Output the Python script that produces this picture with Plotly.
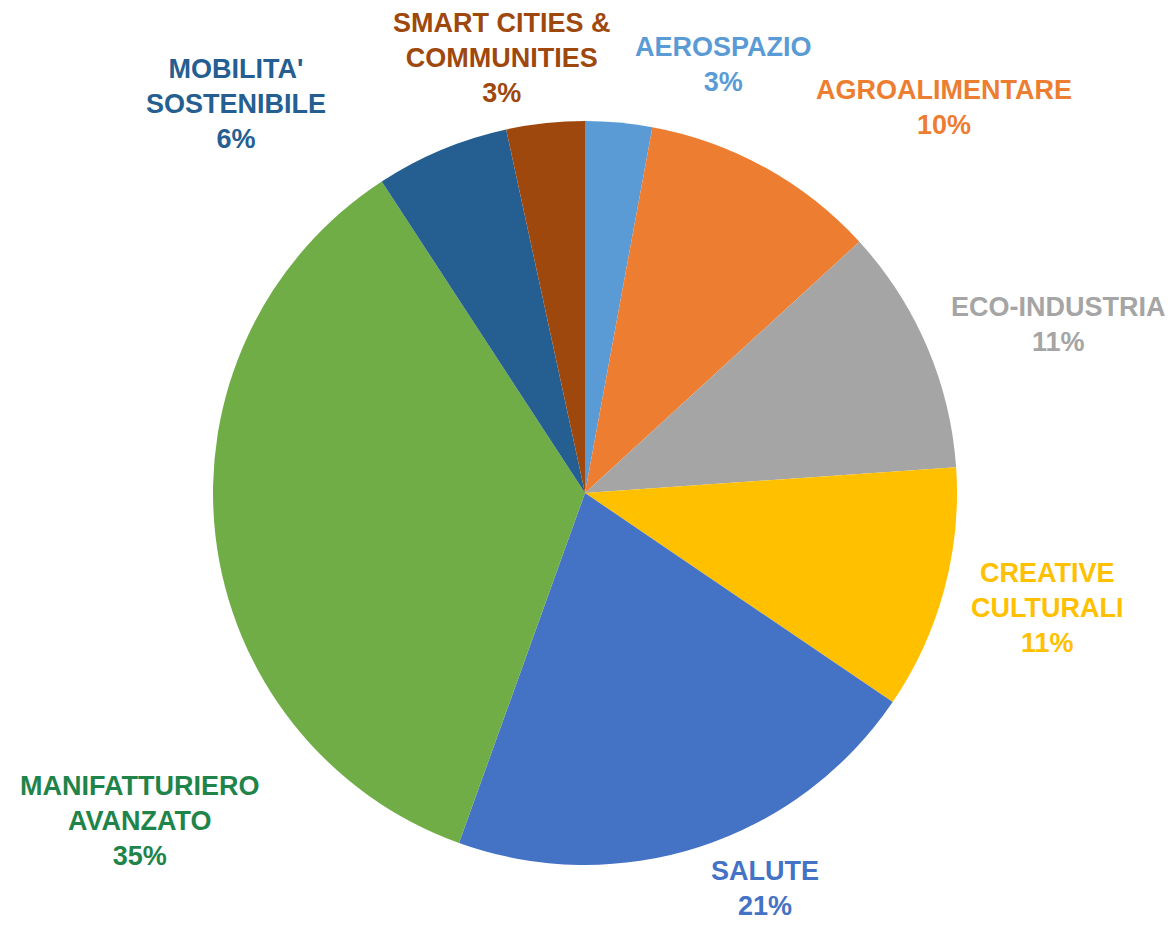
import plotly.graph_objects as go

settori = ['AEROSPAZIO', 'AGROALIMENTARE', 'ECO-INDUSTRIA', 'CREATIVE<br>CULTURALI',
           'SALUTE', 'MANIFATTURIERO<br>AVANZATO', "MOBILITA'<br>SOSTENIBILE",
           'SMART CITIES &<br>COMMUNITIES']
quote = [2.9, 10.3, 10.7, 10.6, 21.0, 35.3, 5.8, 3.4]
etichette = ['3%', '10%', '11%', '11%', '21%', '35%', '6%', '3%']

colori = ['#5B9BD5', '#ED7D31', '#A5A5A5', '#FFC000', '#4472C4', '#70AD47', '#255E91', '#9E480E']
colori_testo = ['#5B9BD5', '#ED7D31', '#A5A5A5', '#FFC000', '#4472C4', '#1E8449', '#255E91', '#9E480E']

W, H = 1175, 925
# centro dei testi in pixel (x, y dall'alto)
pos_testo = [(723, 65), (944, 107), (1058, 325), (1047, 608),
             (765, 888), (139, 821), (236, 104), (502, 58)]

cx, cy, r = 585, 493, 372

fig = go.Figure(go.Pie(
    labels=[s.replace('<br>', ' ') for s in settori],
    values=quote,
    sort=False,
    direction='clockwise',
    rotation=0,
    marker=dict(colors=colori, line=dict(width=0)),
    textinfo='none',
    hoverinfo='label+percent',
    showlegend=False,
    domain=dict(x=[(cx - r) / W, (cx + r) / W],
                y=[(H - cy - r) / H, (H - cy + r) / H]),
))

for s, e, c, (px_, py_) in zip(settori, etichette, colori_testo, pos_testo):
    fig.add_annotation(
        x=px_ / W, y=1 - py_ / H, xref='paper', yref='paper',
        text=f'<b>{s}<br>{e}</b>', showarrow=False,
        font=dict(family='Liberation Sans, Arial', size=27, color=c),
        align='center', xanchor='center', yanchor='middle',
    )

fig.update_layout(
    width=W, height=H,
    margin=dict(l=0, r=0, t=0, b=0),
    paper_bgcolor='white', plot_bgcolor='white',
)

fig.write_html('out.html', config={'displayModeBar': False},
               post_script="document.body.style.margin='0';")
